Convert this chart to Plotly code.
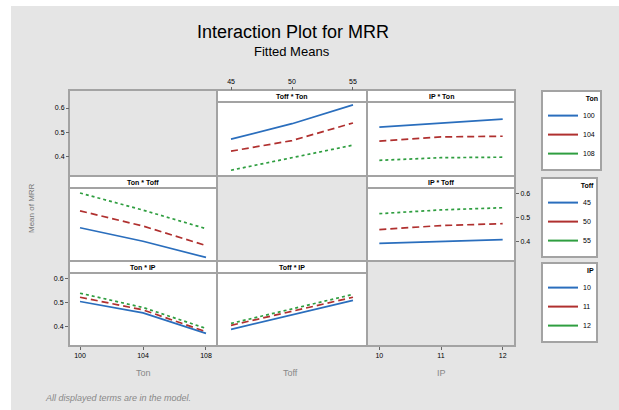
import plotly.graph_objects as go

# ---------------- data ----------------
ton_levels = [100, 104, 108]
toff_levels = [45, 50, 55]
ip_levels = [10, 11, 12]

ton_names = ["100", "104", "108"]
toff_names = ["45", "50", "55"]
ip_names = ["10", "11", "12"]

# Toff * Ton : MRR vs Toff, one line per Ton level
mrr_toff_by_ton = [[0.471, 0.535, 0.613],
                   [0.421, 0.465, 0.538],
                   [0.342, 0.395, 0.446]]
# IP * Ton : MRR vs IP, one line per Ton level
mrr_ip_by_ton = [[0.521, 0.536, 0.554],
                 [0.463, 0.480, 0.483],
                 [0.383, 0.394, 0.396]]
# Ton * Toff : MRR vs Ton, one line per Toff level
mrr_ton_by_toff = [[0.458, 0.401, 0.333],
                   [0.529, 0.465, 0.383],
                   [0.604, 0.532, 0.454]]
# IP * Toff : MRR vs IP, one line per Toff level
mrr_ip_by_toff = [[0.392, 0.401, 0.408],
                  [0.450, 0.467, 0.475],
                  [0.517, 0.533, 0.542]]
# Ton * IP : MRR vs Ton, one line per IP level
mrr_ton_by_ip = [[0.505, 0.457, 0.371],
                 [0.523, 0.470, 0.378],
                 [0.540, 0.480, 0.392]]
# Toff * IP : MRR vs Toff, one line per IP level
mrr_toff_by_ip = [[0.388, 0.450, 0.510],
                  [0.405, 0.464, 0.523],
                  [0.413, 0.474, 0.535]]

y_ticks = [0.4, 0.5, 0.6]
y_tick_text = ["0.4", "0.5", "0.6"]

# ---------------- styling ----------------
W, H = 619, 410
def fx(x): return x / W
def fy(y): return 1 - y / H

COLORS = ["#2a6ebd", "#b0302f", "#2f9e40"]
DASHES = ["solid", "7px,4px", "3px,3px"]
BG = "#e5e5e5"
BORDER = "#a3a3a3"
FONT = "Liberation Sans, Arial, sans-serif"
NARROW = "Liberation Sans Narrow, Arial Narrow, Liberation Sans, Arial, sans-serif"

cols = [(69, 217), (217, 367), (367, 515)]
rows = [(90, 176), (176, 261), (261, 346)]
STRIP = 12
x_ranges = [[99.3, 108.7], [43.85, 56.15], [9.8, 12.2]]
y_range = [0.318, 0.625]

fig = go.Figure()

# (row, col, axis suffix, x values, series, strip label)
panels = [
    (0, 1, "", toff_levels, mrr_toff_by_ton, "Toff * Ton"),
    (0, 2, "2", ip_levels, mrr_ip_by_ton, "IP * Ton"),
    (1, 0, "3", ton_levels, mrr_ton_by_toff, "Ton * Toff"),
    (1, 2, "4", ip_levels, mrr_ip_by_toff, "IP * Toff"),
    (2, 0, "5", ton_levels, mrr_ton_by_ip, "Ton * IP"),
    (2, 1, "6", toff_levels, mrr_toff_by_ip, "Toff * IP"),
]

shapes = [dict(type="rect", xref="paper", yref="paper", x0=fx(11), x1=1.0,
               y0=0.0, y1=fy(6), fillcolor=BG, line=dict(width=0), layer="below")]
annotations = []
layout_axes = {}

def note(text, x, y, size, color="black", family=FONT, **kw):
    d = dict(text=text, x=fx(x), y=fy(y), xref="paper", yref="paper",
             xanchor="center", yanchor="middle", showarrow=False,
             font=dict(size=size, color=color, family=family))
    d.update(kw)
    return d

for r, c, s, xs, series, label in panels:
    for k, vals in enumerate(series):
        fig.add_trace(go.Scatter(
            x=xs, y=vals, mode="lines", xaxis="x" + s, yaxis="y" + s,
            line=dict(color=COLORS[k], width=1.7, dash=DASHES[k]),
            showlegend=False, hoverinfo="x+y"))
    x0, x1 = cols[c]
    y0, y1 = rows[r]
    # strip
    shapes.append(dict(type="rect", xref="paper", yref="paper",
                       x0=fx(x0), x1=fx(x1), y0=fy(y0 + STRIP), y1=fy(y0),
                       fillcolor="white", line=dict(color=BORDER, width=2), layer="below"))
    # data area
    shapes.append(dict(type="rect", xref="paper", yref="paper",
                       x0=fx(x0), x1=fx(x1), y0=fy(y1), y1=fy(y0 + STRIP),
                       fillcolor="white", line=dict(color=BORDER, width=2), layer="below"))
    annotations.append(note("<b>%s</b>" % label, (x0 + x1) / 2, y0 + STRIP / 2 + 0.5, 7))
    hidden = dict(showticklabels=False, ticks="", showline=False, showgrid=False,
                  zeroline=False, fixedrange=True)
    layout_axes["xaxis" + s] = dict(domain=[fx(x0), fx(x1)], range=x_ranges[c],
                                    anchor="y" + s, **hidden)
    layout_axes["yaxis" + s] = dict(domain=[fy(y1), fy(y0 + STRIP)], range=y_range,
                                    anchor="x" + s, **hidden)

# empty diagonal panels
for i in range(3):
    x0, x1 = cols[i]
    y0, y1 = rows[i]
    shapes.append(dict(type="rect", xref="paper", yref="paper",
                       x0=fx(x0), x1=fx(x1), y0=fy(y1), y1=fy(y0),
                       fillcolor=BG, line=dict(color=BORDER, width=2), layer="below"))

tickfont = dict(size=7, color="black", family=FONT)
vis = dict(showticklabels=True, ticks="outside", ticklen=3, tickwidth=1,
           tickcolor="#666", tickfont=tickfont)
# top ticks for Toff column
layout_axes["xaxis"].update(anchor="free", position=fy(90), side="top",
                            tickvals=toff_levels, ticktext=toff_names, **vis)
# left ticks for row 1
layout_axes["yaxis"].update(anchor="free", position=fx(69), side="left",
                            tickvals=y_ticks, ticktext=y_tick_text, **vis)
# right ticks for row 2
layout_axes["yaxis3"].update(anchor="free", position=fx(515), side="right",
                             tickvals=y_ticks, ticktext=y_tick_text, **vis)
# bottom ticks for IP column
layout_axes["xaxis4"].update(anchor="free", position=fy(346), side="bottom",
                             tickvals=ip_levels, ticktext=ip_names, **vis)
# bottom ticks for Ton column, left ticks for row 3
layout_axes["xaxis5"].update(side="bottom", tickvals=ton_levels, ticktext=ton_names, **vis)
layout_axes["yaxis5"].update(side="left", tickvals=y_ticks, ticktext=y_tick_text, **vis)

# legends (solid legend keys)
legend_groups = [("legend", ton_names), ("legend2", toff_names), ("legend3", ip_names)]
for lg, names in legend_groups:
    for k, nm in enumerate(names):
        fig.add_trace(go.Scatter(x=[None], y=[None], mode="lines", name=nm,
                                 line=dict(color=COLORS[k], width=2),
                                 legend=lg, showlegend=True, hoverinfo="skip"))

def legend_cfg(title, ytop):
    return dict(x=fx(541), y=fy(ytop), xanchor="left", yanchor="top",
                bgcolor="white", bordercolor=BORDER, borderwidth=2,
                font=dict(size=7, color="black", family=FONT),
                title=dict(text="<b>%s</b>" % title, side="top right",
                           font=dict(size=7, color="black", family=FONT)),
                itemwidth=30, tracegroupgap=0)

# titles and notes
annotations += [
    note("Interaction Plot for MRR", 293, 32, 18, family=NARROW),
    note("Fitted Means", 292, 51, 13, family=NARROW),
    note("Mean of MRR", 31, 208, 8, color="#777", textangle=-90),
    note("Ton", 143, 373, 9, color="#888"),
    note("Toff", 290, 373, 9, color="#888"),
    note("IP", 441, 373, 9, color="#888"),
    note("<i>All displayed terms are in the model.</i>", 43, 398, 9, color="#888",
         xanchor="left"),
]

fig.update_layout(
    width=W, height=H, margin=dict(l=0, r=0, t=0, b=0),
    paper_bgcolor="white", plot_bgcolor="rgba(0,0,0,0)",
    shapes=shapes, annotations=annotations,
    legend=legend_cfg("Ton", 90),
    legend2=legend_cfg("Toff", 177),
    legend3=legend_cfg("IP", 262),
    font=dict(family=FONT),
    **layout_axes,
)

fig.write_html("out.html")
